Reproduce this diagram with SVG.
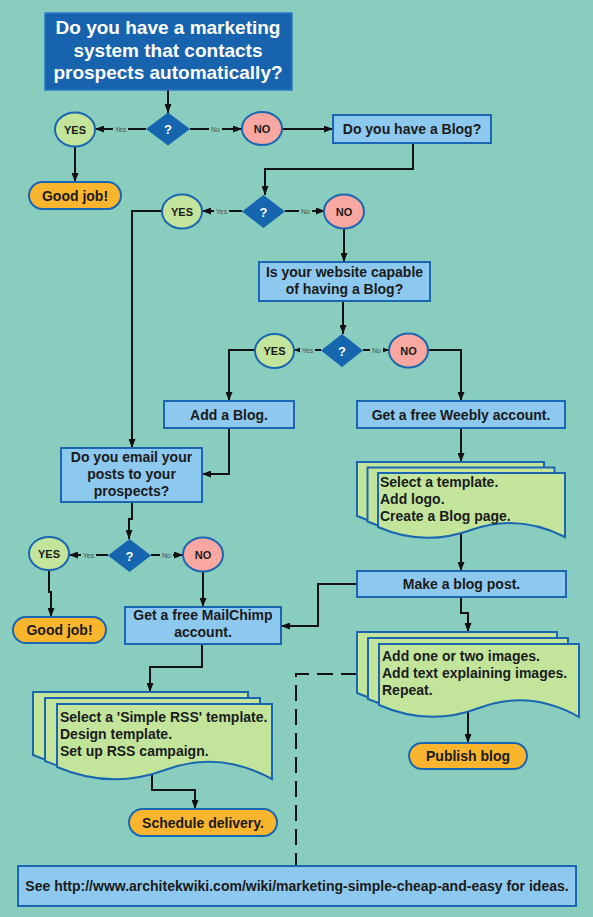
<svg xmlns="http://www.w3.org/2000/svg" width="593" height="917" viewBox="0 0 593 917">
<style>
.bg{fill:#88CDBD}
.box{fill:#8DC8EE;stroke:#1A66B2;stroke-width:2}
.title{fill:#1763AE;stroke:#2A78C2;stroke-width:1.5}
.yes{fill:#C2E59B;stroke:#1A66B2;stroke-width:2}
.no{fill:#F8A8A0;stroke:#1A66B2;stroke-width:2}
.term{fill:#F9B52D;stroke:#1A66B2;stroke-width:2}
.dia{fill:#1565AF}
.doc{fill:#C2E59B;stroke:#1A66B2;stroke-width:2}
.t{font-family:"Liberation Sans",Arial,sans-serif;font-weight:bold;font-size:14px;fill:#1B1B1B}
.c{text-anchor:middle}
.tt{font-family:"Liberation Sans",Arial,sans-serif;font-weight:bold;font-size:19px;fill:#FFFFFF;text-anchor:middle}
.yn{font-family:"Liberation Sans",Arial,sans-serif;font-weight:bold;font-size:11px;fill:#1B1B1B;text-anchor:middle}
.q{font-family:"Liberation Sans",Arial,sans-serif;font-weight:bold;font-size:13px;fill:#FFFFFF;text-anchor:middle}
.lbl{font-family:"Liberation Sans",Arial,sans-serif;font-size:7px;fill:#4F4F4F;text-anchor:middle}
.lb{fill:#88CDBD}
.ln{fill:none;stroke:#111;stroke-width:2}
.dash{fill:none;stroke:#111;stroke-width:2;stroke-dasharray:16 8}
</style>
<defs>
<marker id="ah" markerUnits="userSpaceOnUse" markerWidth="9" markerHeight="7" refX="9" refY="3.5" orient="auto">
<path d="M0,0 L9,3.5 L0,7 z" fill="#111"/>
</marker>
<path id="doc1" d="M0,54 V0 H187 V64 Q140,40 93,57 Q46,74 0,54 Z"/>
<path id="doc2" d="M0,61 V0 H200 V73 Q150,45 100,64 Q50,83 0,61 Z"/>
<path id="doc3" d="M0,63 V0 H215 V75 Q162,46 108,66 Q54,86 0,63 Z"/>
</defs>
<rect class="bg" x="0" y="0" width="593" height="917"/>

<g id="connectors">
<path class="ln" d="M168,90 V113" marker-end="url(#ah)"/>
<path class="ln" d="M146,129 H95" marker-end="url(#ah)"/>
<path class="ln" d="M190,129 H242" marker-end="url(#ah)"/>
<path class="ln" d="M282,129 H333" marker-end="url(#ah)"/>
<path class="ln" d="M75,146 V182" marker-end="url(#ah)"/>
<path class="ln" d="M413,143 V169 H265 V195" marker-end="url(#ah)"/>
<path class="ln" d="M242,211 H202" marker-end="url(#ah)"/>
<path class="ln" d="M285,211 H325" marker-end="url(#ah)"/>
<path class="ln" d="M344,228 V262" marker-end="url(#ah)"/>
<path class="ln" d="M343,301 V334" marker-end="url(#ah)"/>
<path class="ln" d="M321,350 H294" marker-end="url(#ah)"/>
<path class="ln" d="M363,350 H389" marker-end="url(#ah)"/>
<path class="ln" d="M255,350 H229 V401" marker-end="url(#ah)"/>
<path class="ln" d="M428,350 H461 V401" marker-end="url(#ah)"/>
<path class="ln" d="M162,211 H132 V448" marker-end="url(#ah)"/>
<path class="ln" d="M229,428 V474 H202" marker-end="url(#ah)"/>
<path class="ln" d="M132,502 V519 H129 V539" marker-end="url(#ah)"/>
<path class="ln" d="M108,555 H69" marker-end="url(#ah)"/>
<path class="ln" d="M151,555 H183" marker-end="url(#ah)"/>
<path class="ln" d="M49,570 V592 H51 V617" marker-end="url(#ah)"/>
<path class="ln" d="M203,571 V607" marker-end="url(#ah)"/>
<path class="ln" d="M461,428 V462" marker-end="url(#ah)"/>
<path class="ln" d="M461,520 V571" marker-end="url(#ah)"/>
<path class="ln" d="M461,597 V613 H468 V632" marker-end="url(#ah)"/>
<path class="ln" d="M357,584 H318 V626 H281" marker-end="url(#ah)"/>
<path class="ln" d="M468,700 V743" marker-end="url(#ah)"/>
<path class="ln" d="M202,644 V667 H150 V692" marker-end="url(#ah)"/>
<path class="ln" d="M152,765 V790 H195 V809" marker-end="url(#ah)"/>
<path class="dash" d="M357,674 H296 V866"/>
<rect class="lb" x="113" y="126" width="15" height="7"/><text class="lbl" x="120.5" y="131.5">Yes</text>
<rect class="lb" x="209" y="126" width="13" height="7"/><text class="lbl" x="215.5" y="131.5">No</text>
<rect class="lb" x="214" y="208" width="15" height="7"/><text class="lbl" x="221.5" y="213.5">Yes</text>
<rect class="lb" x="299" y="208" width="13" height="7"/><text class="lbl" x="305.5" y="213.5">No</text>
<rect class="lb" x="300" y="347" width="15" height="7"/><text class="lbl" x="307.5" y="352.5">Yes</text>
<rect class="lb" x="370" y="347" width="13" height="7"/><text class="lbl" x="376.5" y="352.5">No</text>
<rect class="lb" x="81" y="552" width="15" height="7"/><text class="lbl" x="88.5" y="557.5">Yes</text>
<rect class="lb" x="160" y="552" width="13" height="7"/><text class="lbl" x="166.5" y="557.5">No</text>
</g>

<g id="q1">
<rect class="title" x="45" y="13" width="247" height="77"/>
<text class="tt" x="168" y="34">Do you have a marketing</text>
<text class="tt" x="168" y="56.5">system that contacts</text>
<text class="tt" x="168" y="79">prospects automatically?</text>
</g>
<g id="d1"><polygon class="dia" points="168,112.5 190,129 168,145.5 146,129"/><text class="q" x="168" y="134">?</text></g>
<g id="yes1"><ellipse class="yes" cx="75" cy="129.5" rx="20" ry="17"/><text class="yn" x="75" y="133.5">YES</text></g>
<g id="no1"><ellipse class="no" cx="262" cy="128.5" rx="20" ry="16.5"/><text class="yn" x="262" y="132.5">NO</text></g>
<g id="good1"><rect class="term" x="29" y="182" width="92" height="27" rx="13.5"/><text class="t c" x="75" y="201">Good job!</text></g>
<g id="q2"><rect class="box" x="333" y="115" width="158" height="28"/><text class="t c" x="412" y="134">Do you have a Blog?</text></g>
<g id="d2"><polygon class="dia" points="263.5,195 285,211.5 263.5,228 242,211.5"/><text class="q" x="263.5" y="216.5">?</text></g>
<g id="yes2"><ellipse class="yes" cx="182" cy="211.5" rx="20" ry="17"/><text class="yn" x="182" y="215.5">YES</text></g>
<g id="no2"><ellipse class="no" cx="344" cy="211.5" rx="20" ry="17"/><text class="yn" x="344" y="215.5">NO</text></g>
<g id="q3"><rect class="box" x="259" y="262" width="171" height="39"/><text class="t c" x="344.5" y="277">Is your website capable</text><text class="t c" x="344.5" y="294">of having a Blog?</text></g>
<g id="d3"><polygon class="dia" points="342,334 363,350.5 342,367 321,350.5"/><text class="q" x="342" y="355.5">?</text></g>
<g id="yes3"><ellipse class="yes" cx="274.5" cy="351" rx="19.5" ry="17"/><text class="yn" x="274.5" y="355">YES</text></g>
<g id="no3"><ellipse class="no" cx="408.5" cy="350.5" rx="19.5" ry="17"/><text class="yn" x="408.5" y="354.5">NO</text></g>
<g id="addblog"><rect class="box" x="164" y="401" width="130" height="27"/><text class="t c" x="229" y="419.5">Add a Blog.</text></g>
<g id="weebly"><rect class="box" x="357" y="401" width="208" height="27"/><text class="t c" x="461" y="419.5">Get a free Weebly account.</text></g>
<g id="q4"><rect class="box" x="61" y="448" width="141" height="54"/><text class="t c" x="131.5" y="462">Do you email your</text><text class="t c" x="131.5" y="479">posts to your</text><text class="t c" x="131.5" y="496">prospects?</text></g>
<g id="d4"><polygon class="dia" points="129.5,539 151,555.5 129.5,572 108,555.5"/><text class="q" x="129.5" y="560.5">?</text></g>
<g id="yes4"><ellipse class="yes" cx="49" cy="553.5" rx="20" ry="16.5"/><text class="yn" x="49" y="557.5">YES</text></g>
<g id="no4"><ellipse class="no" cx="203" cy="554.5" rx="20" ry="17"/><text class="yn" x="203" y="558.5">NO</text></g>
<g id="good2"><rect class="term" x="13" y="617" width="93" height="26" rx="13"/><text class="t c" x="59.5" y="635">Good job!</text></g>
<g id="mailchimp"><rect class="box" x="125" y="607" width="156" height="37"/><text class="t c" x="203" y="620">Get a free MailChimp</text><text class="t c" x="203" y="637">account.</text></g>
<g id="doc-template">
<use href="#doc1" class="doc" transform="translate(357,462)"/>
<use href="#doc1" class="doc" transform="translate(367.5,467.5)"/>
<use href="#doc1" class="doc" transform="translate(378,473)"/>
<text class="t" x="380" y="487">Select a template.</text>
<text class="t" x="380" y="504">Add logo.</text>
<text class="t" x="380" y="520.5">Create a Blog page.</text>
</g>
<g id="blogpost"><rect class="box" x="357" y="571" width="209" height="26"/><text class="t c" x="461.5" y="589">Make a blog post.</text></g>
<g id="doc-images">
<use href="#doc2" class="doc" transform="translate(357,632)"/>
<use href="#doc2" class="doc" transform="translate(368,638)"/>
<use href="#doc2" class="doc" transform="translate(379,644)"/>
<text class="t" x="382" y="661">Add one or two images.</text>
<text class="t" x="382" y="678">Add text explaining images.</text>
<text class="t" x="382" y="695">Repeat.</text>
</g>
<g id="publish"><rect class="term" x="409" y="743" width="118" height="26" rx="13"/><text class="t c" x="468" y="761">Publish blog</text></g>
<g id="doc-rss">
<use href="#doc3" class="doc" transform="translate(33,692)"/>
<use href="#doc3" class="doc" transform="translate(45,698)"/>
<use href="#doc3" class="doc" transform="translate(57,704)"/>
<text class="t" x="60" y="722">Select a 'Simple RSS' template.</text>
<text class="t" x="60" y="739">Design template.</text>
<text class="t" x="60" y="756">Set up RSS campaign.</text>
</g>
<g id="schedule"><rect class="term" x="129" y="809" width="148" height="27" rx="13.5"/><text class="t c" x="203" y="827.5">Schedule delivery.</text></g>
<g id="footer"><rect class="box" x="18" y="866" width="558" height="40"/><text class="t c" x="297" y="891">See http://www.architekwiki.com/wiki/marketing-simple-cheap-and-easy for ideas.</text></g>
</svg>
